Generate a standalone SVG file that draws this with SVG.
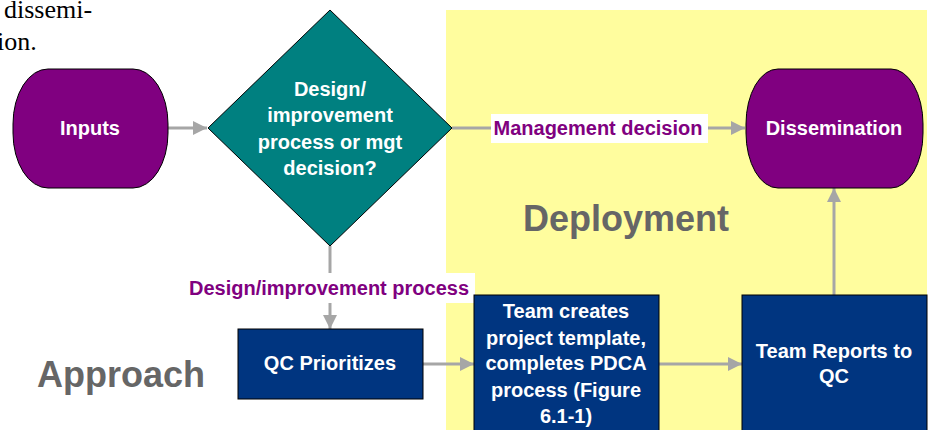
<svg xmlns="http://www.w3.org/2000/svg" width="933" height="430" viewBox="0 0 933 430">
<defs>
<marker id="ah" markerWidth="14" markerHeight="14" refX="14" refY="7" orient="auto" markerUnits="userSpaceOnUse">
<path d="M0,0 L14,7 L0,14 Z" fill="#a6a6a6"/>
</marker>
<style>
.t{font-family:"Liberation Sans",Arial,sans-serif;font-weight:bold;font-size:20px;fill:#fff;text-anchor:middle}
.lbl{font-family:"Liberation Sans",Arial,sans-serif;font-weight:bold;font-size:20px;fill:#800080;text-anchor:middle}
.big{font-family:"Liberation Sans",Arial,sans-serif;font-weight:bold;font-size:36px;fill:#666666}
.con{stroke:#a6a6a6;stroke-width:3;fill:none}
.pill{fill:#800080;stroke:#000;stroke-width:1}
.box{fill:#003580;stroke:#000;stroke-width:1}
</style>
</defs>
<rect x="0" y="0" width="933" height="430" fill="#fff"/>
<rect x="446" y="10" width="481" height="420" fill="#fffd9e"/>
<g id="bodytext" font-family="Liberation Serif,Times New Roman,serif" font-size="26" fill="#000">
<text x="4" y="18">dissemi-</text>
<text x="-3" y="50">ion.</text>
</g>
<text class="big" x="523" y="231">Deployment</text>
<text class="big" x="37" y="387">Approach</text>
<g id="connectors">
<line class="con" x1="168" y1="128" x2="207" y2="128" marker-end="url(#ah)"/>
<line class="con" x1="452" y1="128" x2="745" y2="128" marker-end="url(#ah)"/>
<line class="con" x1="330" y1="246" x2="330" y2="329" marker-end="url(#ah)"/>
<line class="con" x1="423" y1="364" x2="474" y2="364" marker-end="url(#ah)"/>
<line class="con" x1="659" y1="364" x2="742" y2="364" marker-end="url(#ah)"/>
<line class="con" x1="834" y1="295" x2="834" y2="188" marker-end="url(#ah)"/>
<rect x="491" y="114" width="217" height="29" fill="#fff"/>
<text class="lbl" x="598" y="135">Management decision</text>
<rect x="186" y="273" width="289" height="30" fill="#fff"/>
<text class="lbl" x="329" y="295">Design/improvement process</text>
</g>
<g id="inputs">
<rect class="pill" x="13" y="69" width="155" height="119" rx="35" ry="55"/>
<text class="t" x="90" y="135">Inputs</text>
</g>
<g id="decision">
<polygon points="330,10 452,128 330,246 208,128" fill="#008080" stroke="#000" stroke-width="1"/>
<text class="t" x="330" y="96">Design/</text>
<text class="t" x="330" y="122">improvement</text>
<text class="t" x="330" y="149">process or mgt</text>
<text class="t" x="330" y="175">decision?</text>
</g>
<g id="dissemination">
<rect class="pill" x="746" y="69" width="177" height="119" rx="32" ry="55"/>
<text class="t" x="834" y="135">Dissemination</text>
</g>
<g id="qc">
<rect class="box" x="238" y="329" width="185" height="70" stroke="#555"/>
<text class="t" x="330" y="370">QC Prioritizes</text>
</g>
<g id="team-creates">
<rect class="box" x="474" y="295" width="185" height="145"/>
<text class="t" x="566" y="318">Team creates</text>
<text class="t" x="566" y="345">project template,</text>
<text class="t" x="566" y="370">completes PDCA</text>
<text class="t" x="566" y="397">process (Figure</text>
<text class="t" x="566" y="423">6.1-1)</text>
</g>
<g id="team-reports">
<rect class="box" x="742" y="295" width="185" height="145"/>
<text class="t" x="834" y="358">Team Reports to</text>
<text class="t" x="834" y="383">QC</text>
</g>
</svg>
